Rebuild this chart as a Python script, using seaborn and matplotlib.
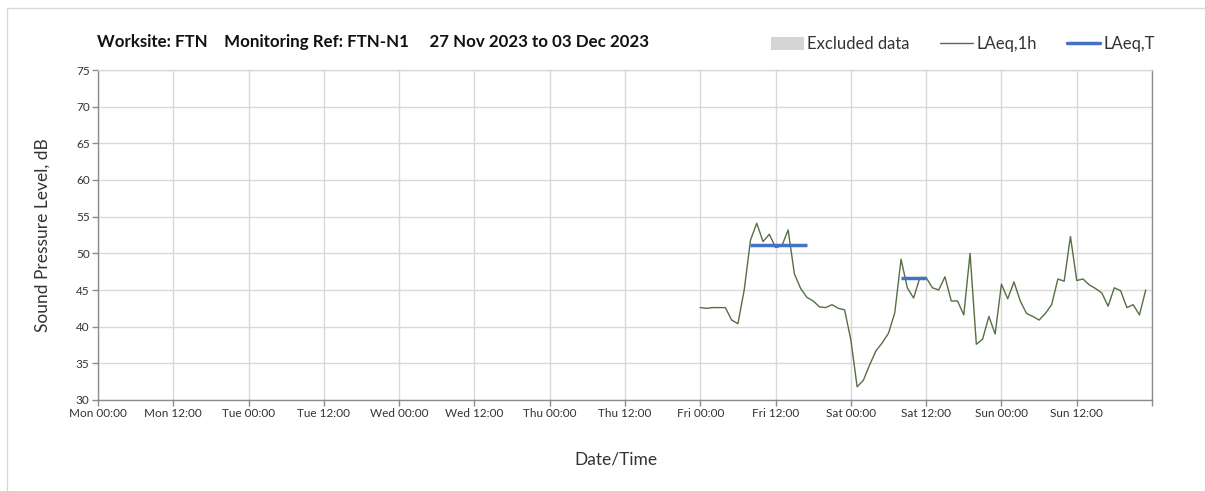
import pandas as pd
import numpy as np
import matplotlib.pyplot as plt
import matplotlib.dates as mdates
from matplotlib.patches import Patch, Rectangle
from matplotlib.lines import Line2D
import seaborn as sns

# hourly LAeq,1h from Fri 01 Dec 2023 00:00 to Sun 03 Dec 2023 23:00
START = "2023-12-01 00:00"
LAEQ_1H = [
    42.6, 42.5, 42.6, 42.6, 42.6, 40.9, 40.4, 45.0, 51.8, 54.1, 51.6, 52.6,
    50.8, 51.0, 53.2, 47.2, 45.2, 44.0, 43.5, 42.7, 42.6, 43.0, 42.5, 42.3,
    38.2, 31.8, 32.7, 34.8, 36.7, 37.8, 39.1, 41.9, 49.2, 45.3, 43.9, 46.7,
    46.7, 45.3, 45.0, 46.8, 43.5, 43.5, 41.6, 50.0, 37.6, 38.3, 41.4, 39.0,
    45.8, 43.8, 46.1, 43.5, 41.8, 41.4, 40.9, 41.8, 43.0, 46.5, 46.2, 52.3,
    46.3, 46.5, 45.7, 45.2, 44.6, 42.8, 45.3, 44.9, 42.6, 43.0, 41.6, 45.0,
]

# LAeq,T periods (start, end, level)
LAEQ_T_START = ["2023-12-01 08:00", "2023-12-02 08:00"]
LAEQ_T_END = ["2023-12-01 17:00", "2023-12-02 12:00"]
LAEQ_T_LEVEL = [51.2, 46.7]

X_MIN = "2023-11-27 00:00"
X_MAX = "2023-12-04 00:00"
Y_TICKS = [30, 35, 40, 45, 50, 55, 60, 65, 70, 75]

GREEN = "#566f43"
BLUE = "#4472c4"

sns.set_theme(style="white")
plt.rcParams['font.family'] = ['Lato', 'DejaVu Sans']

df = pd.DataFrame({
    "time": pd.date_range(START, periods=len(LAEQ_1H), freq="h"),
    "LAeq,1h": LAEQ_1H,
})

fig = plt.figure(figsize=(12.05, 4.91), dpi=100)
ax = fig.add_axes([98 / 1205, 1 - 400 / 491, (1152 - 98) / 1205, (400 - 70) / 491])

sns.lineplot(data=df, x="time", y="LAeq,1h", ax=ax, color=GREEN, linewidth=1.0)
for s, e, lv in zip(LAEQ_T_START, LAEQ_T_END, LAEQ_T_LEVEL):
    ax.plot([pd.Timestamp(s), pd.Timestamp(e)], [lv, lv], color=BLUE, linewidth=2.5,
            solid_capstyle="butt")

ax.set_xlim(pd.Timestamp(X_MIN), pd.Timestamp(X_MAX))
ax.set_ylim(30, 75)
ax.set_yticks(Y_TICKS)
ax.xaxis.set_major_locator(mdates.HourLocator(byhour=[0, 12]))
fmt = mdates.DateFormatter("%a %H:%M")
x_end = mdates.date2num(pd.Timestamp(X_MAX))
ax.xaxis.set_major_formatter(lambda v, pos: "" if abs(v - x_end) < 1e-6 else fmt(v, pos))
ax.grid(True, color="#d9d9d9", linewidth=1.0)
ax.tick_params(axis="both", labelsize=8.5, colors="#333333", length=4, width=1,
               direction="out", left=True, bottom=True, pad=2)
for sp in ax.spines.values():
    sp.set_color("#8c8c8c")
    sp.set_linewidth(1.0)
ax.spines["top"].set_color("#d9d9d9")
ax.tick_params(axis="both", color="#8c8c8c")

ax.set_xlabel("Date/Time", fontsize=12.5, color="#333333")
ax.xaxis.set_label_coords((616 - 98) / (1152 - 98), -0.155)
ax.set_ylabel("Sound Pressure Level, dB", fontsize=12.5, color="#333333", labelpad=18)

fig.text(97 / 1205, 1 - 42 / 491, "Worksite: FTN    Monitoring Ref: FTN-N1     27 Nov 2023 to 03 Dec 2023",
         fontsize=12.2, fontweight="bold", ha="left", va="center", color="#111111")

handles = [
    Patch(facecolor="#d4d4d4", edgecolor="none", label="Excluded data"),
    Line2D([], [], color=GREEN, linewidth=1.0, label="LAeq,1h"),
    Line2D([], [], color=BLUE, linewidth=2.5, label="LAeq,T"),
]
fig.legend(handles=handles, loc="center right", bbox_to_anchor=(1170 / 1205, 1 - 44 / 491),
           ncol=3, frameon=False, fontsize=12, handlelength=2.0, handleheight=0.8,
           handletextpad=0.2, columnspacing=1.8, labelcolor="#333333")

# light border around the chart
fig.add_artist(Rectangle((7 / 1205, -0.1), 1.2, 1 - 8 / 491 + 0.1, transform=fig.transFigure,
                         fill=False, edgecolor="#d9d9d9", linewidth=1.0))

fig.savefig("out.png", dpi=100)
